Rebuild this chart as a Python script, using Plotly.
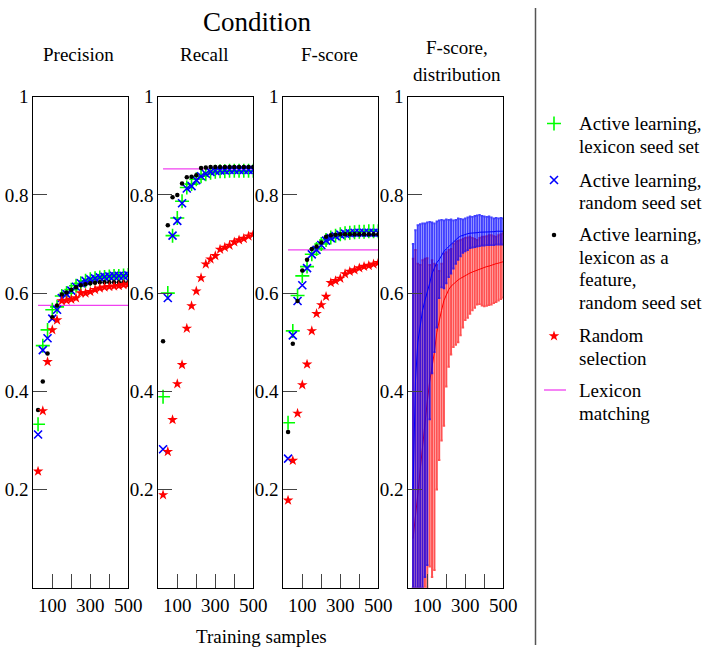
import numpy as np
import plotly.graph_objects as go

W, H = 714, 647
FONT = "Liberation Serif"

# ---------------- data ----------------
samples = [25, 50, 75, 100, 125, 150, 175, 200, 225, 250,
           275, 300, 325, 350, 375, 400, 425, 450, 475, 500]

prec_lex_seed = [0.333, 0.493, 0.525, 0.566, 0.572, 0.594, 0.600, 0.607, 0.615, 0.620,
                 0.625, 0.628, 0.630, 0.632, 0.633, 0.634, 0.635, 0.635, 0.636, 0.637]
prec_rand_seed = [0.312, 0.484, 0.508, 0.548, 0.566, 0.590, 0.598, 0.605, 0.613, 0.620,
                  0.625, 0.628, 0.630, 0.632, 0.633, 0.634, 0.635, 0.635, 0.635, 0.636]
prec_lex_feat = [0.362, 0.420, 0.477, 0.551, 0.575, 0.597, 0.601, 0.607, 0.612, 0.616,
                 0.618, 0.620, 0.621, 0.622, 0.622, 0.622, 0.622, 0.622, 0.622, 0.622]
prec_random = [0.237, 0.360, 0.460, 0.525, 0.545, 0.584, 0.585, 0.587, 0.590, 0.600,
               0.600, 0.603, 0.607, 0.610, 0.612, 0.613, 0.614, 0.615, 0.617, 0.618]

rec_lex_seed = [0.389, 0.600, 0.717, 0.753, 0.787, 0.815, 0.822, 0.832, 0.838, 0.842,
                0.845, 0.847, 0.848, 0.848, 0.849, 0.849, 0.849, 0.849, 0.849, 0.849]
rec_rand_seed = [0.282, 0.590, 0.717, 0.747, 0.783, 0.813, 0.818, 0.830, 0.838, 0.843,
                 0.847, 0.849, 0.850, 0.850, 0.851, 0.851, 0.851, 0.851, 0.851, 0.851]
rec_lex_feat = [0.502, 0.738, 0.795, 0.800, 0.823, 0.836, 0.837, 0.840, 0.855, 0.856,
                0.857, 0.857, 0.857, 0.857, 0.857, 0.857, 0.857, 0.857, 0.857, 0.857]
rec_random = [0.189, 0.277, 0.342, 0.415, 0.454, 0.528, 0.574, 0.604, 0.631, 0.659,
              0.669, 0.676, 0.689, 0.693, 0.697, 0.704, 0.708, 0.711, 0.716, 0.720]

f_lex_seed = [0.336, 0.523, 0.595, 0.635, 0.654, 0.679, 0.690, 0.700, 0.708, 0.713,
              0.717, 0.720, 0.722, 0.723, 0.724, 0.725, 0.725, 0.726, 0.726, 0.726]
f_rand_seed = [0.263, 0.514, 0.584, 0.616, 0.651, 0.679, 0.688, 0.698, 0.707, 0.712,
               0.716, 0.719, 0.721, 0.722, 0.723, 0.723, 0.723, 0.723, 0.723, 0.723]
f_lex_feat = [0.317, 0.497, 0.584, 0.646, 0.668, 0.690, 0.695, 0.703, 0.715, 0.718,
              0.719, 0.720, 0.720, 0.720, 0.720, 0.720, 0.720, 0.720, 0.720, 0.720]
f_random = [0.178, 0.259, 0.355, 0.413, 0.455, 0.523, 0.558, 0.576, 0.593, 0.621,
            0.625, 0.630, 0.639, 0.644, 0.647, 0.651, 0.654, 0.656, 0.659, 0.662]

lexicon_matching = {"Precision": 0.575, "Recall": 0.853, "F-score": 0.688}

# distribution panel
dist_samples = [25, 37.5, 50, 62.5, 75, 87.5, 100, 112.5, 125, 137.5, 150, 162.5, 175,
                187.5, 200, 212.5, 225, 237.5, 250, 262.5, 275, 287.5, 300, 312.5, 325,
                337.5, 350, 362.5, 375, 387.5, 400, 412.5, 425, 437.5, 450, 462.5, 475,
                487.5, 500]
blue_mean = [0.20, 0.42, 0.50, 0.53, 0.565, 0.585, 0.60, 0.62, 0.64, 0.652, 0.662, 0.668, 0.678,
             0.685, 0.69, 0.695, 0.70, 0.705, 0.71, 0.713, 0.716, 0.718, 0.72, 0.721, 0.722,
             0.722, 0.723, 0.723, 0.724, 0.724, 0.724, 0.725, 0.725, 0.725, 0.725, 0.726, 0.726,
             0.726, 0.726]
blue_upper = [0.700, 0.728, 0.738, 0.740, 0.742, 0.742, 0.744, 0.745, 0.744, 0.742, 0.746, 0.748,
              0.749, 0.748, 0.750, 0.749, 0.750, 0.748, 0.749, 0.752, 0.751, 0.750, 0.752, 0.754,
              0.756, 0.755, 0.757, 0.758, 0.759, 0.757, 0.756, 0.755, 0.756, 0.754, 0.752, 0.753,
              0.752, 0.753, 0.752]
blue_lower = [0.0, 0.0, 0.0, 0.0, 0.0, 0.022, 0.046, 0.343, 0.437, 0.48, 0.53, 0.59, 0.612,
              0.61, 0.62, 0.633, 0.64, 0.65, 0.66, 0.668, 0.675, 0.682, 0.685, 0.688, 0.692,
              0.693, 0.694, 0.695, 0.696, 0.697, 0.697, 0.698, 0.698, 0.698, 0.698, 0.699, 0.699,
              0.699, 0.699]
red_mean = [0.10, 0.14, 0.19, 0.24, 0.29, 0.34, 0.38, 0.42, 0.45, 0.48, 0.52, 0.545, 0.565,
            0.585, 0.597, 0.607, 0.614, 0.619, 0.623, 0.627, 0.63, 0.633, 0.636, 0.639, 0.641,
            0.643, 0.645, 0.647, 0.649, 0.651, 0.652, 0.654, 0.655, 0.657, 0.658, 0.66, 0.661,
            0.662, 0.664]
red_upper = [0.670, 0.688, 0.660, 0.657, 0.667, 0.670, 0.671, 0.657, 0.667, 0.660, 0.657, 0.645,
             0.660, 0.680, 0.683, 0.688, 0.690, 0.700, 0.705, 0.706, 0.708, 0.710, 0.712, 0.713,
             0.715, 0.712, 0.710, 0.708, 0.712, 0.715, 0.715, 0.716, 0.718, 0.718, 0.716, 0.715,
             0.718, 0.720, 0.722]
red_lower = [0.0, 0.0, 0.0, 0.0, 0.0, 0.0, 0.0, 0.043, 0.022, 0.036, 0.20, 0.26, 0.30,
             0.33, 0.41, 0.45, 0.475, 0.49, 0.495, 0.50, 0.514, 0.53, 0.545, 0.55, 0.558,
             0.565, 0.57, 0.577, 0.578, 0.575, 0.573, 0.574, 0.576, 0.577, 0.58, 0.582, 0.585,
             0.588, 0.591]

x_tickvals = [100, 200, 300, 400, 500]
x_ticktext = ["100", "", "300", "", "500"]
y_tickvals = [0.2, 0.4, 0.6, 0.8, 1.0]
y_ticktext = ["0.2", "0.4", "0.6", "0.8", "1"]

panel_titles = ["Precision", "Recall", "F-score", "F-score,<br>distribution"]
legend_entries = [
    ("lexseed", ["Active learning,", "lexicon seed set"]),
    ("randseed", ["Active learning,", "random seed set"]),
    ("lexfeat", ["Active learning,", "lexicon as a", "feature,", "random seed set"]),
    ("random", ["Random", "selection"]),
    ("lexicon", ["Lexicon", "matching"]),
]

# ---------------- styles ----------------
STY = {
    "lexseed": dict(symbol="cross-thin", size=10, color="#00ff00", line=dict(width=1.6, color="#00ff00")),
    "randseed": dict(symbol="x-thin", size=8, color="#0000ff", line=dict(width=1.6, color="#0000ff")),
    "lexfeat": dict(symbol="circle", size=4.5, color="black", line=dict(width=0)),
    "random": dict(symbol="star", size=8, color="#ff0000", line=dict(width=0)),
}
MAGENTA = "#f040f0"

fig = go.Figure()

LEFTS = [33.3, 158.3, 283.3, 408.3]
PW = 95.0
TOP, BOT = 96.7, 587.7
LEG_X0 = 540.0

def xdom(i):
    return [LEFTS[i] / W, (LEFTS[i] + PW) / W]

ydom = [1 - BOT / H, 1 - TOP / H]

panels = [
    ("Precision", prec_lex_seed, prec_rand_seed, prec_lex_feat, prec_random),
    ("Recall", rec_lex_seed, rec_rand_seed, rec_lex_feat, rec_random),
    ("F-score", f_lex_seed, f_rand_seed, f_lex_feat, f_random),
]

for i, (name, g, b, k, r) in enumerate(panels):
    ax = "" if i == 0 else str(i + 1)
    xa, ya = "x" + ax, "y" + ax
    lv = lexicon_matching[name]
    fig.add_trace(go.Scatter(x=[samples[0], samples[-1]], y=[lv, lv], mode="lines",
                             line=dict(color=MAGENTA, width=1.3), xaxis=xa, yaxis=ya,
                             showlegend=False, hoverinfo="skip"))
    for key, vals in (("lexseed", g), ("randseed", b), ("lexfeat", k), ("random", r)):
        fig.add_trace(go.Scatter(x=samples, y=vals, mode="markers", marker=STY[key],
                                 xaxis=xa, yaxis=ya, showlegend=False, hoverinfo="skip"))

# distribution panel
def add_dist(mean, lo, hi, line_col, bar_col):
    mean = np.array(mean); lo = np.array(lo); hi = np.array(hi)
    fig.add_trace(go.Scatter(
        x=dist_samples, y=mean, mode="lines", line=dict(color=line_col, width=1),
        error_y=dict(type="data", symmetric=False, array=hi - mean, arrayminus=mean - lo,
                     color=bar_col, thickness=2.0, width=1.2),
        xaxis="x4", yaxis="y4", showlegend=False, hoverinfo="skip"))

add_dist(red_mean, red_lower, red_upper, "#ff0000", "rgba(255,0,0,0.68)")
add_dist(blue_mean, blue_lower, blue_upper, "#0000ff", "rgba(0,0,255,0.75)")

axis_common = dict(showline=True, mirror=True, linecolor="black", linewidth=1,
                   ticks="inside", ticklen=14, tickwidth=1, tickcolor="#444",
                   showgrid=False, zeroline=False, fixedrange=True, automargin=False,
                   tickfont=dict(family=FONT, size=19, color="black"))

layout_axes = {}
for i in range(4):
    ax = "" if i == 0 else str(i + 1)
    layout_axes["xaxis" + ax] = dict(domain=xdom(i), range=[0, 500], anchor="y" + ax,
                                     tickmode="array", tickvals=x_tickvals, ticktext=x_ticktext,
                                     **axis_common)
    layout_axes["yaxis" + ax] = dict(domain=ydom, range=[0, 1], anchor="x" + ax,
                                     tickmode="array", tickvals=y_tickvals, ticktext=y_ticktext,
                                     **axis_common)
# separate axis in pixel units for the hand-made legend (right of the panels, no overlap)
layout_axes["xaxis5"] = dict(domain=[LEG_X0 / W, 1], range=[LEG_X0, W], visible=False,
                             fixedrange=True, anchor="y5", automargin=False)
layout_axes["yaxis5"] = dict(domain=[0, 1], range=[H, 0], visible=False, fixedrange=True,
                             anchor="x5", automargin=False)

fig.update_layout(**layout_axes)

# legend markers
leg_mark_y = {"lexseed": 123.5, "randseed": 180, "lexfeat": 235, "random": 336}
for key, yy in leg_mark_y.items():
    fig.add_trace(go.Scatter(x=[554], y=[yy], mode="markers", marker=STY[key],
                             xaxis="x5", yaxis="y5", showlegend=False, hoverinfo="skip"))
fig.add_trace(go.Scatter(x=[544, 566], y=[390, 390], mode="lines",
                         line=dict(color=MAGENTA, width=1.3),
                         xaxis="x5", yaxis="y5", showlegend=False, hoverinfo="skip"))

annotations = []
def txt(x, y, s, size=19, anchor="center"):
    annotations.append(dict(x=x / W, y=1 - y / H, xref="paper", yref="paper", text=s,
                            showarrow=False, xanchor=anchor, yanchor="middle",
                            font=dict(family=FONT, size=size, color="black")))

txt(257, 22, "Condition", size=27)
sub_pos = [(78, 55), (204, 55), (329, 55)]
for (x, y), t in zip(sub_pos, panel_titles[:3]):
    txt(x, y, t)
txt(457, 47, "F-score,")
txt(457, 74, "distribution")
txt(261, 636, "Training samples")

leg_line_y = [[123.5, 147], [180, 202], [235, 257, 280, 302], [335, 358], [390, 413]]
for (key, lines), ys in zip(legend_entries, leg_line_y):
    for s, yy in zip(lines, ys):
        txt(577, yy, s, anchor="left")

fig.update_layout(
    annotations=annotations,
    shapes=[dict(type="line", xref="paper", yref="paper", x0=535.5 / W, x1=535.5 / W,
                 y0=1 - 8 / H, y1=1 - 645 / H, line=dict(color="#555", width=1.5))],
    width=W, height=H, margin=dict(l=0, r=0, t=0, b=0, pad=0, autoexpand=False),
    paper_bgcolor="white", plot_bgcolor="rgba(0,0,0,0)", showlegend=False, hovermode=False,
)

fig.write_html("out.html", config={"displayModeBar": False, "responsive": False})
